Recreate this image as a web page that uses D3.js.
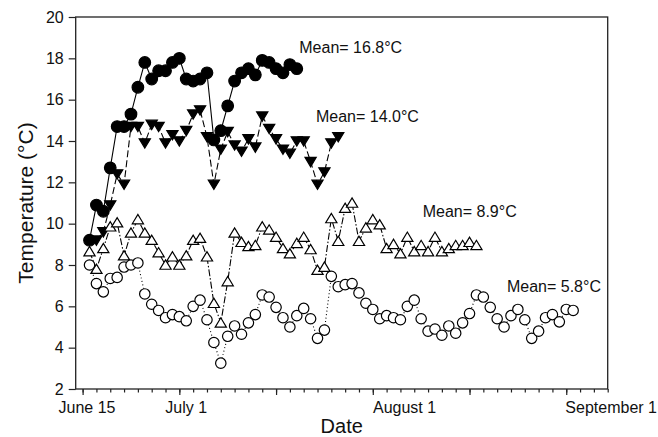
<!DOCTYPE html>
<html>
<head>
<meta charset="utf-8">
<script src="https://cdn.jsdelivr.net/npm/d3@7"></script>
<style>
  body { margin: 0; background: #fff; }
  text { font-family: "Liberation Sans", Arial, sans-serif; fill: #111; }
</style>
</head>
<body>
<svg id="chart" width="658" height="437"></svg>
<script>
// days are counted from June 16 (day 0 = left edge of the axis)
var startDay = new Date(Date.UTC(2011, 5, 16));

// filled circles, solid line, from June 18
var filledCircles = [9.2, 10.9, 10.6, 12.7, 14.7, 14.7, 15.3, 16.6, 17.8, 17.0,
  17.4, 17.4, 17.8, 18.0, 17.0, 16.9, 17.0, 17.3, 14.05, 14.5,
  15.7, 16.9, 17.3, 17.5, 17.2, 17.9, 17.8, 17.5, 17.3, 17.7, 17.5];

// filled triangles down, dashed line, from June 19
var filledTriangles = [9.2, 9.6, 10.9, 12.4, 11.9, 14.7, 14.7, 13.9, 14.8, 14.7,
  13.9, 14.3, 14.0, 14.5, 15.3, 15.5, 14.2, 11.9, 13.6, 14.45,
  13.8, 13.5, 14.1, 13.7, 15.2, 14.6, 14.1, 13.6, 13.4, 14.0,
  14.0, 13.0, 11.9, 12.5, 13.9, 14.2];

// open triangles up, dash-dot line, from June 18
var openTriangles = [8.65, 7.8, 8.8, 9.85, 10.05, 8.45, 9.55, 10.2, 9.55, 9.2,
  8.6, 8.0, 8.4, 8.0, 8.45, 9.2, 9.3, 8.4, 6.15, 5.2,
  7.2, 9.55, 9.1, 8.9, 8.95, 9.85, 9.7, 9.35, 8.8, 8.55,
  9.05, 9.35, 8.75, 7.75, 7.9, 10.25, 9.15, 10.75, 11.0, 9.15,
  9.8, 10.2, 9.95, 8.8, 9.0, 8.55, 9.35, 8.65, 8.95, 8.65,
  9.35, 8.65, 8.8, 8.95, 8.95, 9.1, 8.95];

// open circles, dotted line, from June 18
var openCircles = [8.0, 7.1, 6.7, 7.35, 7.4, 7.9, 8.0, 8.1, 6.6, 6.1,
  5.8, 5.45, 5.6, 5.5, 5.3, 6.0, 6.3, 5.35, 4.25, 3.25,
  4.55, 5.05, 4.65, 5.2, 5.6, 6.55, 6.45, 5.95, 5.45, 5.0,
  5.55, 5.9, 5.4, 4.45, 4.85, 7.45, 6.95, 7.05, 7.1, 6.65,
  6.15, 5.85, 5.4, 5.55, 5.45, 5.35, 6.0, 6.3, 5.4, 4.8,
  4.9, 4.6, 5.05, 4.7, 5.2, 5.65, 6.55, 6.45, 5.95, 5.4,
  5.0, 5.55, 5.85, 5.35, 4.45, 4.8, 5.45, 5.6, 5.25, 5.85, 5.8];

var yTicks = [2, 4, 6, 8, 10, 12, 14, 16, 18, 20];
var dateLabels = ["June 15", "July 1", "August 1", "September 1"];
var dateLabelDays = [1.64, 16.0, 47.6, 77.5];
var meanLabels = ["Mean= 16.8\u00b0C", "Mean= 14.0\u00b0C", "Mean= 8.9\u00b0C", "Mean= 5.8\u00b0C"];
var meanDays = [32.36, 34.78, 50.22, 62.42];
var meanTemps = [18.28, 14.90, 10.30, 6.67];

function day(d) { return new Date(startDay.getTime() + d * 864e5); }

var svg = d3.select("#chart");
var plotLeft = 75.7, plotRight = 607.7, plotTop = 17, plotBottom = 389;

var x = d3.scaleUtc().domain([day(0), day(77)]).range([plotLeft, plotRight]);
var y = d3.scaleLinear().domain([2, 20]).range([plotBottom, plotTop]);

var series = [
  { values: filledCircles, first: 2, dash: null, shape: "circle", fill: "#000", size: 5.8 },
  { values: filledTriangles, first: 3, dash: "7,3", shape: "down", fill: "#000", size: 5.6 },
  { values: openTriangles, first: 2, dash: "7,2,1.5,2", shape: "up", fill: "#fff", size: 5.6 },
  { values: openCircles, first: 2, dash: "1,2.5", shape: "circle", fill: "#fff", size: 5.2 }
];

// axes
var minorTicks = d3.range(1, 78, 2).map(day);
var majorTicks = d3.range(1, 78, 14).map(day);

svg.append("g")
  .attr("transform", "translate(0," + plotBottom + ")")
  .call(d3.axisBottom(x).tickValues(minorTicks).tickSize(3.5).tickFormat("").tickSizeOuter(0))
  .call(function(g) { g.select(".domain").remove(); })
  .selectAll("line").attr("stroke", "#222").attr("stroke-width", 1.2);

svg.append("g")
  .attr("transform", "translate(0," + plotBottom + ")")
  .call(d3.axisBottom(x).tickValues(majorTicks).tickSize(6).tickFormat("").tickSizeOuter(0))
  .call(function(g) { g.select(".domain").remove(); })
  .selectAll("line").attr("stroke", "#222").attr("stroke-width", 1.2);

var yAxis = svg.append("g")
  .attr("transform", "translate(" + plotLeft + ",0)")
  .call(d3.axisLeft(y).tickValues(yTicks).tickSize(7).tickPadding(5).tickSizeOuter(0));
yAxis.select(".domain").remove();
yAxis.selectAll("line").attr("stroke", "#222").attr("stroke-width", 1.2);
yAxis.selectAll("text").attr("font-size", 16).attr("font-family", "Liberation Sans, Arial").attr("fill", "#111");

svg.append("rect")
  .attr("x", plotLeft).attr("y", plotTop)
  .attr("width", plotRight - plotLeft).attr("height", plotBottom - plotTop)
  .attr("fill", "none").attr("stroke", "#222").attr("stroke-width", 1.3);

svg.selectAll(".dateLabel").data(dateLabels).join("text")
  .attr("class", "dateLabel")
  .attr("x", function(d, i) { return x(day(dateLabelDays[i])); })
  .attr("y", 413)
  .attr("text-anchor", "middle")
  .attr("font-size", 16)
  .text(function(d) { return d; });

svg.append("text")
  .attr("x", (plotLeft + plotRight) / 2).attr("y", 433)
  .attr("text-anchor", "middle").attr("font-size", 20)
  .text("Date");

svg.append("text")
  .attr("transform", "translate(33," + (plotTop + plotBottom) / 2 + ") rotate(-90)")
  .attr("text-anchor", "middle").attr("font-size", 21)
  .text("Temperature (\u00b0C)");

// series
var line = d3.line()
  .x(function(d) { return x(d.date); })
  .y(function(d) { return y(d.value); });

function shapePath(shape, s) {
  var h = s * 0.95;
  if (shape === "down") return "M" + (-s) + "," + (-h * 0.8) + "L" + s + "," + (-h * 0.8) + "L0," + (h * 0.95) + "Z";
  return "M" + (-s) + "," + (h * 0.8) + "L" + s + "," + (h * 0.8) + "L0," + (-h * 0.95) + "Z";
}

series.forEach(function(s) {
  var pts = s.values.map(function(v, i) { return { date: day(s.first + i), value: v }; });

  svg.append("path")
    .datum(pts)
    .attr("d", line)
    .attr("fill", "none")
    .attr("stroke", "#000")
    .attr("stroke-width", 1.1)
    .attr("stroke-dasharray", s.dash);

  var g = svg.append("g");
  if (s.shape === "circle") {
    g.selectAll("circle").data(pts).join("circle")
      .attr("cx", function(d) { return x(d.date); })
      .attr("cy", function(d) { return y(d.value); })
      .attr("r", s.size)
      .attr("fill", s.fill)
      .attr("stroke", "#000")
      .attr("stroke-width", 1.2);
  } else {
    g.selectAll("path").data(pts).join("path")
      .attr("transform", function(d) { return "translate(" + x(d.date) + "," + y(d.value) + ")"; })
      .attr("d", shapePath(s.shape, s.size))
      .attr("fill", s.fill)
      .attr("stroke", "#000")
      .attr("stroke-width", 1.2);
  }
});

svg.selectAll(".meanLabel").data(meanLabels).join("text")
  .attr("class", "meanLabel")
  .attr("x", function(d, i) { return x(day(meanDays[i])); })
  .attr("y", function(d, i) { return y(meanTemps[i]); })
  .attr("font-size", 16)
  .text(function(d) { return d; });
</script>
</body>
</html>
